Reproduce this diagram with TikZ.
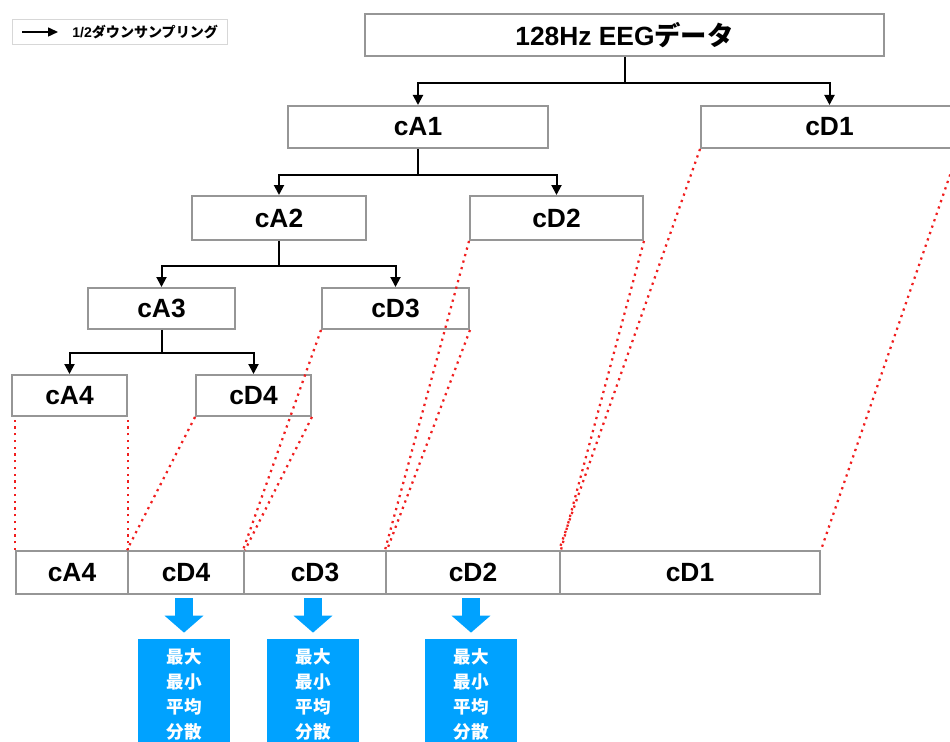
\documentclass[tikz,border=0pt]{standalone}
\usepackage{fontspec}
\setmainfont{Liberation Sans}
\newfontfamily\jpfont{Noto Sans CJK JP}
\usepackage{tikz}
\usetikzlibrary{arrows.meta, positioning, calc}
\definecolor{boxgray}{RGB}{150,150,150}
\definecolor{leggray}{RGB}{215,215,215}
\definecolor{dotred}{RGB}{240,30,30}
\definecolor{statblue}{RGB}{0,162,255}
\tikzset{
  coef/.style={rectangle, draw=boxgray, line width=0.04cm, fill=white,
    minimum height=0.84cm, inner sep=0pt,
    font=\fontsize{15}{17}\selectfont\bfseries},
  rowbox/.style={coef, minimum height=0.86cm},
  statbox/.style={rectangle, fill=statblue, text=white, minimum width=1.86cm,
    minimum height=2.2cm, inner sep=0pt, align=center,
    font=\jpfont\fontsize{10}{14.2}\selectfont\bfseries},
  legendbox/.style={rectangle, draw=leggray, line width=0.02cm,
    minimum width=4.32cm, minimum height=0.5cm, inner sep=0pt},
  arrow/.style={-{Triangle[length=0.2cm, width=0.2cm]}, line width=0.04cm, black},
  legarrow/.style={-{Triangle[length=0.2cm, width=0.18cm]}, line width=0.03cm, black},
  dotline/.style={dotred, line width=0.045cm, dash pattern=on 0.045cm off 0.09cm},
  fatarrow/.style={-{Triangle[length=0.34cm, width=0.76cm]}, line width=0.36cm,
    statblue, shorten <=0.07cm, shorten >=0.12cm},
}

\begin{document}
\begin{tikzpicture}[x=0.02cm, y=-0.02cm]
  \useasboundingbox (0,0) rectangle (950,742);
  \clip (0,0) rectangle (950,742);

  % legend
  \node[legendbox] (legend) at (120,32.5) {};
  \node[anchor=west, inner sep=0pt, font=\fontsize{8}{10}\selectfont\bfseries]
    (legtxt) at (72,32) {1/2{\jpfont ダウンサンプリング}};
  \coordinate (legA) at (22,32);
  \coordinate (legB) at (58,32);
  \draw[legarrow] (legA) -- (legB);

  % decomposition tree
  \node[coef, minimum width=10.38cm] (eeg) at (624.5,35) {128Hz EEG{\jpfont データ}};
  \node[coef, minimum width=5.2cm] (cA1) at (418,127) {cA1};
  \node[coef, minimum width=5.14cm] (cD1) at (829.5,127) {cD1};
  \node[coef, minimum width=3.48cm, minimum height=0.88cm] (cA2) at (279,218) {cA2};
  \node[coef, minimum width=3.46cm, minimum height=0.88cm] (cD2) at (556.5,218) {cD2};
  \node[coef, minimum width=2.94cm, minimum height=0.82cm] (cA3) at (161.5,308.5) {cA3};
  \node[coef, minimum width=2.94cm, minimum height=0.82cm] (cD3) at (395.5,308.5) {cD3};
  \node[coef, minimum width=2.3cm, minimum height=0.82cm] (cA4) at (69.5,395.5) {cA4};
  \node[coef, minimum width=2.3cm, minimum height=0.82cm] (cD4) at (253.5,395.5) {cD4};

  \draw[line width=0.04cm] (eeg.south) -- ++(0,26) coordinate (j1);
  \draw[arrow] (j1) -| (cA1.north);
  \draw[arrow] (j1) -| (cD1.north);
  \draw[line width=0.04cm] (cA1.south) -- ++(0,26) coordinate (j2);
  \draw[arrow] (j2) -| (cA2.north);
  \draw[arrow] (j2) -| (cD2.north);
  \draw[line width=0.04cm] (cA2.south) -- ++(0,25) coordinate (j3);
  \draw[arrow] (j3) -| (cA3.north);
  \draw[arrow] (j3) -| (cD3.north);
  \draw[line width=0.04cm] (cA3.south) -- ++(0,23) coordinate (j4);
  \draw[arrow] (j4) -| (cA4.north);
  \draw[arrow] (j4) -| (cD4.north);

  % concatenated row
  \node[rowbox, minimum width=2.24cm] (bA4) at (72,572.5) {cA4};
  \node[rowbox, minimum width=2.32cm] (bD4) at (186,572.5) {cD4};
  \node[rowbox, minimum width=2.84cm] (bD3) at (315,572.5) {cD3};
  \node[rowbox, minimum width=3.48cm] (bD2) at (473,572.5) {cD2};
  \node[rowbox, minimum width=5.2cm] (bD1) at (690,572.5) {cD1};

  % mapping lines
  \draw[dotline] (bA4.north west) -- (bA4.north west |- cA4.south);
  \draw[dotline] ([xshift=-0.02cm]bA4.north east) -- ([xshift=-0.02cm]bA4.north east |- cA4.south);
  \draw[dotline] (cD4.south west) -- (bD4.north west);
  \draw[dotline] (cD4.south east) -- (bD4.north east);
  \draw[dotline] (cD3.south west) -- (bD3.north west);
  \draw[dotline] (cD3.south east) -- (bD3.north east);
  \draw[dotline] (cD2.south west) -- (bD2.north west);
  \draw[dotline] (cD2.south east) -- (bD2.north east);
  \draw[dotline] (cD1.south west) -- (bD1.north west);
  \draw[dotline] (cD1.south east) -- (bD1.north east);

  % features
  \foreach \b/\s in {bD4/st4, bD3/st3, bD2/st2} {
    \node[statbox] (\s) at ($(\b.south)+(-2,99)$) {最大\\最小\\平均\\分散};
    \draw[fatarrow] (\s.north |- \b.south) -- (\s.north);
  }
\end{tikzpicture}
\end{document}
